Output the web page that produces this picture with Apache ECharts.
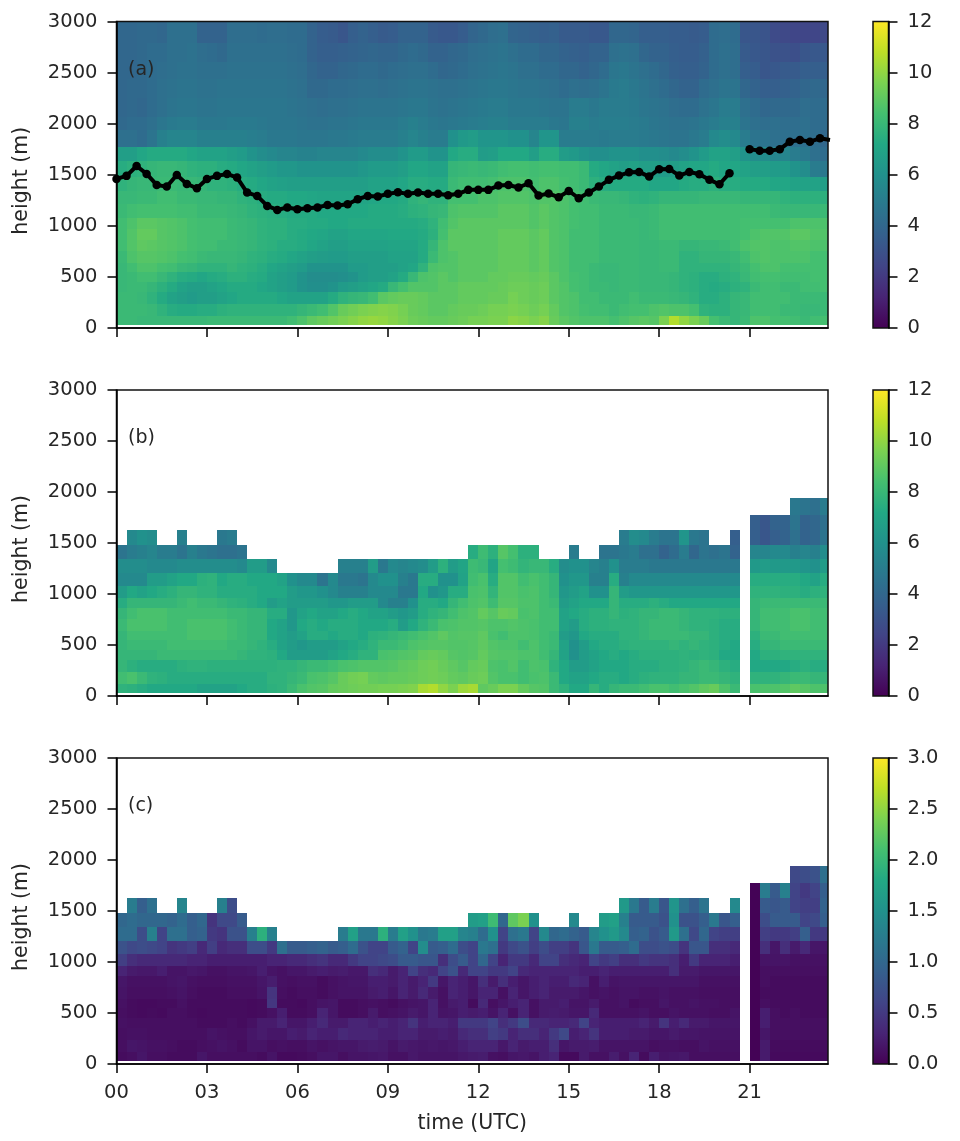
<!DOCTYPE html>
<html><head><meta charset="utf-8">
<style>html,body{margin:0;padding:0;background:#fff}#c{width:960px;height:1141px;filter:blur(0.5px)}</style>
<script src="https://cdn.jsdelivr.net/npm/echarts@6/dist/echarts.min.js"></script>
</head><body><div id="c"></div>
<script>
const _ = null;
const blanks = n => new Array(n).fill(null);
const xTickHours = [0,3,6,9,12,15,18,21];
const xTickLabels = ['00','03','06','09','12','15','18','21'];
const heightEdges = [30,120,235,350,450,545,640,755,860,965,1080,1210,1340,1480,1630,1770,1940,2068,2250,2440,2605,2790,3000];
const panelLetters = ['(a)','(b)','(c)'];
const colorMax = [12,12,3];
const mixedLayerHeight = [1459,1489,1586,1508,1400,1384,1498,1410,1368,1459,1489,1508,1472,1326,1293,1195,1156,1179,1163,1173,1179,1205,1199,1212,1260,1293,1287,1313,1329,1313,1326,1313,1313,1300,1313,1352,1352,
1352,1394,1400,1375,1417,1296,1316,1280,1342,1270,1326,1384,1450,1492,1524,1528,1482,1554,1557,1492,1528,1505,1450,1407,1515,_,1749,1736,1736,1749,1824,1840,1824,1857,1840];

// panel (a), m/s x10, rows bottom to top
const a00=[81,81,80,80,80,80,80,80,80,81,81,81,81,81,81,81,81,83,86,90,92,94,96,98,100,101,100,98,96,93,92,91,91,92,93,95,95,96,96,99,98,96,98,92,89,87,86,86,86,84,86,88,89,88,96,106,100,96,92,84,81,79,81,86,86,84,84,83,81,83,84];
const a01=[81,81,81,80,77,74,73,73,74,74,76,77,77,77,77,77,77,77,79,81,83,87,92,94,96,97,98,97,95,92,91,89,89,91,92,92,93,95,95,96,95,93,95,91,87,86,84,83,83,81,83,84,84,86,87,86,86,84,77,76,76,79,80,83,83,83,81,81,80,80,81];
const a02=[81,81,80,77,73,69,67,65,67,67,69,71,73,73,73,73,71,69,69,69,69,73,77,79,80,83,89,91,92,92,91,89,89,89,91,91,91,92,92,95,93,92,93,89,87,86,83,83,81,81,81,83,81,81,81,80,79,77,74,74,76,79,80,83,83,83,83,81,81,81,81];
const a03=[80,81,81,79,76,73,69,67,67,69,71,73,73,73,71,69,67,65,61,59,59,61,65,67,69,71,73,80,84,87,87,87,89,89,91,91,91,91,92,93,93,92,93,89,87,84,83,81,81,80,81,81,80,80,80,79,77,76,74,73,74,76,77,81,83,83,81,81,83,83,84];
const a04=[80,81,83,83,80,77,74,73,71,73,74,76,76,74,73,69,67,65,61,58,58,58,59,61,65,67,67,69,73,80,86,87,89,87,89,89,89,91,91,92,92,91,92,89,86,84,83,81,80,80,81,81,80,80,80,79,77,76,74,74,76,77,80,83,84,84,83,83,83,84,84];
const a05=[80,83,86,86,84,83,80,79,77,77,77,79,77,76,74,71,69,67,65,61,61,61,61,65,65,67,67,67,69,71,77,86,87,87,89,89,89,89,91,91,91,89,91,87,86,83,83,81,80,80,81,81,80,80,81,81,77,77,77,77,77,79,81,84,86,86,84,84,84,84,84];
const a06=[81,86,88,88,87,86,84,83,81,80,80,80,79,77,76,74,73,71,69,67,66,65,65,67,67,67,67,69,69,69,73,81,86,87,89,89,89,89,91,91,91,89,91,87,86,83,83,83,81,81,81,81,80,80,81,81,77,77,79,79,79,80,83,86,87,86,86,86,86,84,84];
const a07=[83,87,90,89,88,87,86,84,83,83,81,81,80,79,77,76,74,74,73,71,69,67,67,69,69,69,69,70,70,70,73,79,86,89,89,89,89,89,91,91,91,89,91,87,86,83,83,83,81,81,81,81,80,80,81,81,79,79,80,80,81,83,86,87,87,86,86,87,87,86,86];
const a08=[83,87,91,91,88,87,86,84,83,83,83,81,80,79,77,76,76,74,73,72,71,69,69,71,71,71,71,72,72,72,73,76,84,89,89,89,89,89,91,91,91,89,91,87,86,83,83,83,81,81,81,81,80,81,83,83,83,83,83,83,83,83,84,86,87,87,87,89,89,87,87];
const a09=[83,86,89,89,88,87,86,84,83,83,83,81,80,79,77,76,76,74,74,73,73,72,72,73,73,73,73,73,73,73,74,77,83,87,89,89,89,89,89,89,89,87,89,87,86,84,83,83,81,81,81,81,80,81,83,83,83,83,83,83,83,83,84,84,84,84,84,86,86,86,86];
const a10=[81,83,84,84,84,84,83,83,81,81,81,80,79,77,76,75,74,73,73,73,72,72,72,72,72,73,73,73,74,76,77,79,80,86,87,87,87,87,89,89,89,87,89,87,86,84,83,83,81,81,81,80,80,81,83,83,83,83,83,83,83,83,83,83,83,81,80,80,80,80,81];
const a11=[80,80,81,81,83,83,81,81,80,80,79,79,77,76,74,73,73,72,72,71,70,70,70,70,70,71,72,72,73,77,79,77,77,84,84,84,86,86,87,87,87,86,87,87,86,84,83,81,80,80,79,77,76,77,79,79,79,79,80,80,80,80,79,79,79,79,77,76,76,76,76];
const a12=[77,79,80,80,81,81,80,80,79,77,77,76,74,73,71,69,68,67,67,67,67,67,67,67,67,69,69,69,71,74,74,73,73,81,83,83,83,84,86,86,86,84,86,86,84,83,81,76,74,73,73,73,73,71,71,71,73,74,74,76,74,74,73,73,73,71,71,69,69,69,67];
const a13=[74,76,77,79,80,80,79,77,76,76,74,73,71,69,67,65,63,63,61,61,61,61,61,61,63,65,65,65,67,71,71,69,69,79,80,81,80,81,83,84,84,83,84,84,83,83,81,73,71,69,67,69,67,67,65,67,69,71,71,73,71,71,69,67,67,65,65,61,58,50,48];
const a14=[67,67,71,73,73,73,73,71,69,69,69,67,65,61,58,56,54,54,53,53,54,54,54,54,56,58,58,58,61,65,65,61,61,72,74,74,66,67,72,72,72,67,74,74,66,64,61,59,59,61,61,61,59,59,58,56,58,61,65,69,69,67,61,58,58,54,54,50,48,44,42];
const a15=[44,44,42,46,52,54,54,54,52,52,52,52,52,51,50,48,48,48,47,47,47,48,48,49,50,50,50,50,52,54,52,50,50,60,64,66,62,62,62,60,60,54,62,62,50,50,50,50,49,50,50,50,49,48,47,46,46,48,50,56,58,56,50,46,46,44,44,44,44,43,40];
const a16=[41,42,42,44,47,49,50,50,48,48,48,49,49,49,48,47,47,47,46,45,45,46,46,47,48,48,48,48,50,52,50,48,47,48,49,50,51,52,52,50,50,50,50,48,47,52,52,50,51,51,51,50,49,47,46,45,45,46,48,50,52,52,46,44,43,44,43,43,44,42,42];
const a17=[40,41,40,42,44,46,47,47,46,46,47,47,47,47,47,47,47,46,45,44,43,44,44,45,46,46,46,46,47,48,48,46,45,46,47,48,49,50,50,48,48,48,47,46,46,50,50,48,50,50,50,49,47,46,45,43,42,42,45,47,50,50,44,42,40,41,41,41,43,42,42];
const a18=[40,41,41,42,44,45,46,46,45,45,46,46,46,46,46,46,46,45,44,41,41,42,42,43,44,44,43,44,45,46,46,45,44,44,45,46,47,48,48,47,46,46,45,44,42,44,43,44,46,49,50,48,46,44,42,40,38,38,42,44,46,46,40,38,36,36,37,38,40,41,40];
const a19=[40,40,41,42,43,44,45,45,44,44,44,45,45,45,45,45,45,44,43,40,38,38,40,41,42,42,41,42,43,44,44,42,40,41,42,44,45,46,47,46,44,44,42,42,40,40,38,40,42,47,48,46,44,42,40,37,36,36,38,42,44,43,36,35,32,33,34,34,36,36,36];
const a20=[40,40,41,42,42,44,44,45,43,42,41,44,44,44,44,44,44,43,42,38,36,36,37,38,39,40,39,39,41,42,41,38,38,40,41,43,44,45,46,44,42,42,40,40,38,37,36,38,38,44,45,44,40,38,38,36,35,35,37,42,44,43,34,33,32,30,30,29,32,33,33];
const a21=[40,40,41,41,40,44,44,44,38,38,38,43,43,43,42,43,43,42,42,38,35,34,32,36,38,36,34,35,38,38,38,34,33,33,35,39,41,43,44,39,38,37,36,37,34,34,34,33,33,40,40,39,36,36,36,35,35,34,35,42,43,42,32,32,31,27,26,25,25,25,26];

// panel (b), m/s x10
const b00=[77,76,74,72,72,72,72,72,69,69,69,69,72,74,74,76,77,81,85,87,88,91,92,93,94,94,95,95,96,97,104,106,100,96,102,104,90,92,96,96,91,88,87,81,77,72,72,79,74,79,81,81,83,85,85,83,85,87,90,92,86,81,_,85,86,86,87,90,88,86,86];
const b01=[83,85,81,77,76,74,74,74,74,74,74,74,74,74,74,77,77,79,81,85,86,88,92,94,95,91,90,91,91,92,93,94,93,91,90,92,93,87,85,85,83,85,86,81,72,69,69,72,74,74,72,74,76,77,77,77,79,79,81,81,79,77,_,77,77,77,79,81,81,79,79];
const b02=[79,76,74,74,74,74,76,77,77,76,76,76,76,76,76,76,77,77,79,81,81,83,85,86,87,87,87,88,90,91,93,94,92,90,88,91,92,86,85,87,83,86,85,77,72,66,66,69,72,72,72,74,74,74,76,76,77,79,81,79,76,74,_,72,72,72,72,74,76,74,74];
const b03=[79,79,79,79,81,81,81,81,81,81,81,81,79,77,77,76,72,66,66,66,66,69,72,74,77,77,85,86,87,88,91,92,91,88,87,88,91,88,87,87,86,86,83,79,69,60,66,69,72,74,72,74,76,76,76,76,77,76,77,76,72,72,_,72,76,76,77,77,77,77,77];
const b04=[79,81,81,81,81,83,83,83,83,83,83,81,81,79,77,74,69,66,63,66,66,66,69,72,74,77,81,81,83,86,87,88,88,87,87,88,90,87,86,86,83,86,83,81,69,60,66,72,74,74,76,77,77,77,77,79,77,79,77,76,74,72,_,74,79,79,81,81,81,81,81];
const b05=[79,83,83,83,83,83,83,85,85,85,85,83,81,79,79,72,69,66,69,74,74,72,74,74,72,76,77,79,81,83,85,87,90,87,88,88,90,85,83,86,86,85,83,81,66,63,72,74,74,74,77,77,79,81,81,81,81,79,79,76,74,74,_,76,81,81,83,83,83,83,83];
const b06=[81,85,85,85,85,83,83,85,85,85,85,83,81,79,79,72,69,63,72,74,72,74,74,74,72,72,72,74,66,72,77,81,85,86,87,87,88,86,86,87,86,85,83,83,69,66,74,76,76,77,77,77,79,81,81,81,79,77,77,76,74,74,_,79,83,83,83,85,85,83,83];
const b07=[79,83,85,85,85,83,83,83,83,83,83,81,81,79,79,74,74,63,69,72,69,69,72,74,72,69,69,66,63,66,74,77,79,83,86,87,91,88,92,91,85,86,83,83,69,72,74,76,76,79,76,77,79,79,81,81,79,77,77,77,76,76,_,79,83,83,83,85,85,83,83];
const b08=[74,79,79,79,79,79,81,83,81,81,79,77,76,74,72,66,69,66,66,66,66,63,63,66,66,66,56,52,52,60,74,74,72,79,83,86,87,82,88,88,86,86,83,81,66,69,72,72,72,79,74,74,74,76,74,72,72,72,72,72,72,72,_,79,81,81,81,81,81,81,81];
const b09=[66,72,69,72,74,76,79,79,77,77,74,74,74,74,72,72,72,66,63,63,60,56,52,52,52,56,56,56,48,48,72,60,63,74,74,85,86,78,87,87,85,86,83,79,63,66,69,60,60,79,66,63,63,63,63,63,63,63,63,63,63,63,_,77,77,77,76,76,74,76,77];
const b10=[56,56,56,66,66,69,72,72,76,77,72,74,74,72,72,72,69,60,56,56,46,56,48,48,46,56,60,60,52,48,74,74,60,60,69,83,85,74,87,87,83,85,83,79,60,63,63,52,52,74,52,56,56,56,56,56,56,56,56,56,56,56,_,74,74,74,74,74,72,69,74];
const b11=[58,58,58,56,56,56,58,58,58,58,58,58,56,66,66,56,_,_,_,_,_,_,52,52,52,66,48,56,54,56,58,66,76,66,70,82,80,70,84,82,78,80,80,74,58,60,60,54,52,60,50,50,50,48,48,48,48,48,48,48,48,48,_,64,66,64,64,64,62,60,66];
const b12=[46,50,52,54,50,50,46,52,48,46,44,44,46,...blanks(22),74,82,76,88,84,76,76,_,_,_,50,_,_,46,46,48,50,44,44,38,42,50,40,46,44,46,38,_,54,54,56,56,52,54,52,58];
const b13=[_,56,60,58,_,_,52,_,_,_,48,50,...blanks(38),50,58,56,50,46,46,62,48,46,_,_,36,_,36,32,36,38,44,38,40,46];
const b14=[...blanks(63),36,32,38,38,46,38,40,44];
const b15=[...blanks(67),48,46,44,50];

// panel (c), m/s x100
const c00=[9,12,18,12,12,9,9,9,18,12,12,12,12,12,9,16,8,8,9,12,18,18,12,16,16,18,20,14,14,20,16,16,16,16,20,22,24,14,12,18,20,16,25,30,8,8,22,14,14,24,14,30,9,25,16,18,20,12,12,12,12,12,_,2,22,8,8,8,8,8,8];
const c01=[12,18,16,14,14,12,9,9,12,14,16,14,9,16,16,12,14,12,12,16,14,16,18,18,22,24,22,16,22,20,18,20,18,20,25,30,30,30,20,30,22,25,25,40,18,22,22,24,16,16,16,16,16,12,14,14,12,12,16,14,14,14,_,2,22,9,9,9,9,9,9];
const c02=[12,14,14,12,12,12,12,12,12,16,14,12,12,18,22,18,18,25,22,30,25,25,35,30,30,30,25,25,30,30,22,22,25,22,35,40,40,55,50,30,40,40,30,50,65,25,30,45,25,25,25,22,22,18,18,22,18,18,16,16,16,16,_,2,18,12,12,12,12,12,12];
const c03=[14,12,12,12,12,12,12,12,9,9,9,12,9,14,22,22,30,18,18,25,35,22,22,30,30,25,30,25,30,45,25,30,30,25,50,50,50,60,40,50,70,35,35,30,30,35,60,30,25,25,25,25,30,22,45,25,35,22,22,18,18,18,_,2,25,12,12,12,12,12,12];
const c04=[12,9,8,9,8,12,12,9,8,9,9,9,9,8,9,14,25,9,9,12,30,18,9,9,12,22,12,14,16,22,18,30,16,18,25,22,25,16,30,14,30,14,22,24,22,18,18,35,14,14,14,14,16,12,12,16,14,14,14,12,12,16,_,2,25,12,9,12,9,9,9];
const c05=[14,9,8,8,9,9,14,9,9,9,9,9,9,8,9,48,9,9,8,12,16,18,9,9,12,14,12,9,14,16,18,30,14,22,25,9,35,12,18,25,30,14,22,22,25,16,16,22,14,14,16,9,12,12,18,14,14,16,14,14,12,12,_,2,12,9,9,9,9,9,9];
const c06=[16,12,12,12,12,14,16,12,9,9,9,12,12,12,16,45,12,9,12,12,9,14,16,16,16,22,25,18,30,22,35,22,14,30,25,18,30,30,14,30,18,25,30,22,22,22,18,14,16,14,16,16,14,14,16,14,14,14,12,12,12,12,_,2,9,9,9,9,9,9,9];
const c07=[18,14,14,14,14,16,18,14,12,12,12,14,14,14,18,24,14,12,14,14,9,14,16,18,18,25,25,22,30,22,30,50,18,30,25,18,40,22,40,25,18,25,30,25,25,35,30,14,25,16,18,18,18,18,18,18,18,18,14,14,14,14,_,2,12,9,9,9,9,9,9];
const c08=[30,22,20,20,25,16,16,20,18,14,14,16,16,18,25,16,14,18,18,22,25,22,24,20,20,40,35,22,30,60,40,35,60,75,35,60,60,50,50,60,35,30,30,30,30,30,25,25,30,25,25,25,25,25,25,40,22,22,18,18,18,18,_,2,12,12,12,12,12,12,12];
const c09=[55,40,35,35,35,35,35,30,30,25,25,25,25,25,25,30,30,35,35,40,45,35,35,50,60,60,65,70,85,85,80,80,40,70,85,60,100,60,30,50,50,35,60,60,40,35,30,60,50,55,40,40,50,45,45,40,25,50,30,30,30,25,_,2,16,16,16,14,14,14,14];
const c10=[75,65,70,65,60,45,50,55,35,55,35,40,40,70,70,50,110,85,85,90,95,85,90,105,75,60,60,85,95,60,145,85,90,105,70,60,120,110,50,65,75,55,70,55,55,45,80,120,85,85,90,105,70,70,75,70,45,80,80,40,40,35,_,2,40,18,40,22,35,18,18];
const c11=[105,105,70,130,60,110,110,90,95,50,45,75,75,130,190,130,_,_,_,_,_,_,125,170,120,120,190,125,170,150,120,125,170,170,135,130,105,150,60,110,120,60,140,100,105,95,85,135,150,160,140,90,95,75,85,160,110,65,100,60,55,55,_,2,55,50,50,55,90,50,50];
const c12=[100,105,100,100,100,95,105,90,100,45,65,65,85,...blanks(22),165,170,205,100,225,240,150,_,_,_,140,_,_,165,170,130,85,85,85,75,150,75,75,90,120,80,90,_,2,70,85,85,85,60,65,90];
const c13=[_,125,90,110,_,_,135,_,_,_,130,70,...blanks(38),160,120,85,125,80,155,110,90,115,_,_,140,_,2,85,80,85,60,55,55,95];
const c14=[...blanks(63),2,125,85,130,60,50,60,90];
const c15=[...blanks(67),65,70,75,110];

const panelRows = [
 [a00,a01,a02,a03,a04,a05,a06,a07,a08,a09,a10,a11,a12,a13,a14,a15,a16,a17,a18,a19,a20,a21],
 [b00,b01,b02,b03,b04,b05,b06,b07,b08,b09,b10,b11,b12,b13,b14,b15],
 [c00,c01,c02,c03,c04,c05,c06,c07,c08,c09,c10,c11,c12,c13,c14,c15]];
const unitDivisor = [10,10,100];
panelRows.forEach((rows,p)=>rows.forEach((r,i)=>{ if(r.length!==71) console.error('row',p,i,r.length); }));

const viridis = [[68,1,84],[72,36,117],[65,68,135],[53,95,141],[42,120,142],[33,145,140],[34,168,132],[68,191,112],[122,209,81],[189,223,38],[253,231,37]];
function colorOf(f){
  f=Math.max(0,Math.min(1,f))*10; const i=Math.min(9,Math.floor(f)), t=f-i, a=viridis[i], b=viridis[i+1];
  return 'rgb('+[0,1,2].map(k=>Math.round(a[k]+(b[k]-a[k])*t)).join(',')+')';
}
const tops=[21.5,390,758], heights=[306.5,306,306];
const X_MAX=23.6, textColor='#262626', FS=19.5, NAME_FS=20.5, FF='"DejaVu Sans"';
const grid=[],xAxis=[],yAxis=[],series=[],graphicEls=[];
const lineAxis={show:true,onZero:false,lineStyle:{color:'#000',width:1.5}};
for(let p=0;p<3;p++){
  grid.push({left:116.5,width:711.5,top:tops[p],height:heights[p],show:true,borderColor:'#111',borderWidth:1.5,backgroundColor:'transparent',z:3});
  grid.push({left:873,width:15.5,top:tops[p],height:heights[p],show:true,borderColor:'#111',borderWidth:1.5,backgroundColor:'transparent',z:3});
  xAxis.push({gridIndex:2*p,type:'value',min:0,max:X_MAX,z:4,splitLine:{show:false},axisLine:lineAxis,
    axisTick:{show:true,length:9,customValues:xTickHours,lineStyle:{color:'#000',width:1.5}},
    axisLabel:{show:p===2,customValues:xTickHours,margin:19,color:textColor,fontSize:FS,fontFamily:FF,
      formatter:v=>xTickLabels[xTickHours.indexOf(v)]||''},
    name:p===2?'time (UTC)':'',nameLocation:'middle',nameGap:49,nameTextStyle:{color:textColor,fontSize:NAME_FS,fontFamily:FF}});
  xAxis.push({gridIndex:2*p+1,type:'value',min:0,max:1,show:false});
  yAxis.push({gridIndex:2*p,type:'value',min:0,max:3000,interval:500,z:4,splitLine:{show:false},axisLine:lineAxis,
    axisTick:{show:true,length:9,lineStyle:{color:'#000',width:1.5}},
    axisLabel:{margin:19,color:textColor,fontSize:FS,fontFamily:FF,formatter:v=>String(v)},
    name:'height (m)',nameLocation:'middle',nameGap:84,nameRotate:90,
    nameTextStyle:{color:textColor,fontSize:NAME_FS,fontFamily:FF,padding:[0,12,0,0]}});
  const vm=colorMax[p];
  yAxis.push({gridIndex:2*p+1,type:'value',position:'right',min:0,max:vm,interval:vm/6,z:4,splitLine:{show:false},
    axisLine:lineAxis,axisTick:{show:true,length:9,lineStyle:{color:'#000',width:1.5}},
    axisLabel:{margin:19,color:textColor,fontSize:FS,fontFamily:FF,formatter:v=>vm===3?v.toFixed(1):String(v)}});
  const cells=[];
  panelRows[p].forEach((row,r)=>row.forEach((v,k)=>{
    if(v!==null) cells.push([k/3,(k+1)/3,heightEdges[r],heightEdges[r+1],v/unitDivisor[p]]);
  }));
  series.push({type:'custom',xAxisIndex:2*p,yAxisIndex:2*p,clip:true,z:1,silent:true,animation:false,
    encode:{x:[0,1],y:[2,3]},data:cells,
    renderItem:(params,api)=>{
      const a=api.coord([api.value(0),api.value(3)]), b=api.coord([api.value(1),api.value(2)]);
      const rect=echarts.graphic.clipRectByRect({x:a[0],y:a[1],width:b[0]-a[0],height:b[1]-a[1]},
        {x:params.coordSys.x,y:params.coordSys.y,width:params.coordSys.width,height:params.coordSys.height});
      if(!rect) return null;
      const x0=Math.round(rect.x),y0=Math.round(rect.y),x1=Math.round(rect.x+rect.width),y1=Math.round(rect.y+rect.height);
      return {type:'rect',shape:{x:x0,y:y0,width:x1-x0,height:y1-y0},style:{fill:colorOf(api.value(4)/vm)}};
    }});
  series.push({type:'custom',xAxisIndex:2*p+1,yAxisIndex:2*p+1,z:1,silent:true,animation:false,
    encode:{x:[0,1],y:[2,3]},data:[[0,1,0,vm]],
    renderItem:(params,api)=>{
      const a=api.coord([0,vm]), b=api.coord([1,0]);
      return {type:'rect',shape:{x:a[0],y:a[1],width:b[0]-a[0],height:b[1]-a[1]},
        style:{fill:new echarts.graphic.LinearGradient(0,1,0,0,viridis.map((c,i)=>({offset:i/10,color:'rgb('+c.join(',')+')'})))}};
    }});
  graphicEls.push({type:'text',left:128,top:tops[p]+39,z:10,style:{text:panelLetters[p],fill:textColor,font:'19px "DejaVu Sans"'}});
}
series.push({type:'line',xAxisIndex:0,yAxisIndex:0,z:6,clip:true,animation:false,silent:true,connectNulls:false,
  data:mixedLayerHeight.map((h,k)=>[k/3,h]),symbol:'circle',symbolSize:8.5,showAllSymbol:true,
  lineStyle:{color:'#000',width:4},itemStyle:{color:'#000'}});
const chart=echarts.init(document.getElementById('c'),null,{renderer:'canvas',width:960,height:1141});
chart.setOption({backgroundColor:'#fff',animation:false,grid,xAxis,yAxis,series,graphic:graphicEls});
</script></body></html>
